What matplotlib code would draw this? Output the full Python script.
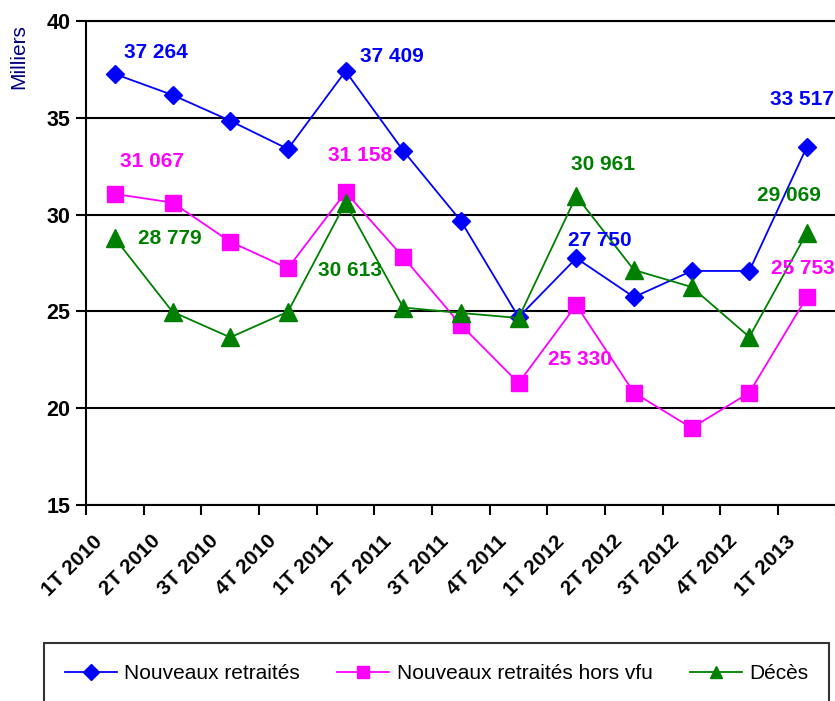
import matplotlib.pyplot as plt
import matplotlib.transforms as mtransforms

plt.rcParams['font.family'] = ['Liberation Sans', 'DejaVu Sans']

# données en milliers
trimestres = ["1T 2010", "2T 2010", "3T 2010", "4T 2010", "1T 2011", "2T 2011", "3T 2011",
              "4T 2011", "1T 2012", "2T 2012", "3T 2012", "4T 2012", "1T 2013"]
nouveaux = [37.264, 36.18, 34.85, 33.39, 37.409, 33.30, 29.67, 24.70, 27.750, 25.74, 27.09, 27.09, 33.517]
hors_vfu = [31.067, 30.62, 28.60, 27.23, 31.158, 27.80, 24.30, 21.30, 25.330, 20.80, 18.98, 20.80, 25.753]
deces = [28.779, 24.98, 23.66, 24.98, 30.613, 25.20, 24.92, 24.66, 30.961, 27.14, 26.26, 23.68, 29.069]
idx_labels = [0, 4, 8, 12]

# décalages des étiquettes (pixels, x / y vers le haut)
off_nouveaux = [(41, 21), (46, 15), (24, 18), (-5, 47)]
off_hors_vfu = [(37, 32), (15, 37), (4, -54), (-4, 28)]
off_deces = [(55, 0), (4, -68), (27, 32), (-18, 37)]

fig = plt.figure(figsize=(8.35, 7.01), dpi=100)
ax = fig.add_axes([0.103, 0.2796, 0.898, 0.6904])

x = list(range(len(trimestres)))
series = [
    ("Nouveaux retraités", nouveaux, "#0000FF", "D", 9, off_nouveaux),
    ("Nouveaux retraités hors vfu", hors_vfu, "#FF00FF", "s", 11, off_hors_vfu),
    ("Décès", deces, "#008000", "^", 12.5, off_deces),
]
for nom, vals, col, mk, ms, offs in series:
    ax.plot(x, vals, color=col, lw=1.3, marker=mk, ms=ms, mec=col, mfc=col,
            label=nom, clip_on=False, zorder=3)
    for i, (dx, dy) in zip(idx_labels, offs):
        txt = f"{round(vals[i] * 1000):,}".replace(",", " ")
        ax.annotate(txt, (x[i], vals[i]), xytext=(dx, dy), textcoords="offset pixels",
                    ha="center", va="center", color=col, fontsize=15,
                    fontweight="bold", zorder=4)

ax.set_xlim(-0.5, len(trimestres) - 0.5)
ax.set_ylim(15, 40)
ax.set_yticks([15, 20, 25, 30, 35, 40])
ax.tick_params(axis="y", labelsize=15.5, width=1.5, length=7, pad=4)
for t in ax.get_yticklabels():
    t.set_fontweight("bold")

ax.set_xticks([i - 0.5 for i in range(len(trimestres) + 1)])
ax.set_xticklabels([])
ax.tick_params(axis="x", which="major", width=1.5, length=7)
ax.set_xticks(x, trimestres, minor=True)
ax.tick_params(axis="x", which="minor", length=0, pad=24, labelsize=15)
shift = mtransforms.ScaledTranslation(-15 / 100, 0, fig.dpi_scale_trans)
for t in ax.get_xticklabels(minor=True):
    t.set_rotation(45)
    t.set_ha("right")
    t.set_va("center")
    t.set_rotation_mode("anchor")
    t.set_fontweight("bold")
    t.set_transform(t.get_transform() + shift)

ax.yaxis.grid(True, color="black", lw=1.5)
ax.set_axisbelow(True)
ax.spines["right"].set_visible(False)
for s in ["left", "bottom", "top"]:
    ax.spines[s].set_linewidth(1.5)

fig.text(0.023, 0.92, "Milliers", rotation=90, color="#000080", fontsize=15,
         ha="center", va="center")

leg = fig.legend(loc="upper left", bbox_to_anchor=(0.0527, -0.02, 0.94, 0.1027),
                 mode="expand", ncol=3, fontsize=15, frameon=True, fancybox=False,
                 edgecolor="black", borderpad=1.0, handlelength=2.5, handletextpad=0.35,
                 borderaxespad=0)
leg.get_frame().set_linewidth(1.5)
for h in leg.legend_handles:
    h.set_markersize(8)

fig.savefig("out.png", dpi=100)
